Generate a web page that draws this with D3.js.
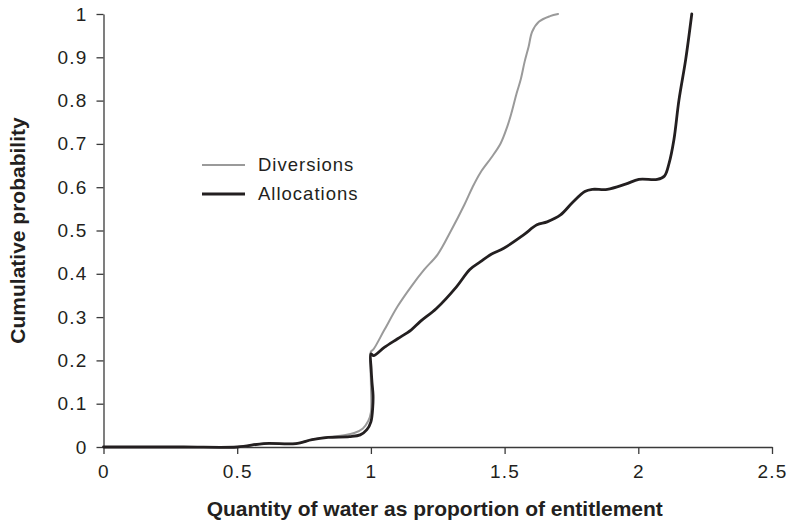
<!DOCTYPE html>
<html>
<head>
<meta charset="utf-8">
<script src="https://cdn.jsdelivr.net/npm/d3@7"></script>
<style>
  html, body { margin: 0; padding: 0; background: #fff; }
  svg { display: block; font-family: "Liberation Sans", Arial, sans-serif; }
  .axis path, .axis line { stroke: #3a3a3a; stroke-width: 1.3; }
  .axis text { fill: #231f20; font-size: 19px; letter-spacing: 1.2px; }
  .axis-label { font-size: 21px; font-weight: bold; fill: #231f20; }
  .legend text { font-size: 18.5px; letter-spacing: 1px; fill: #231f20; }
</style>
</head>
<body>
<div id="chart"></div>
<script>
"use strict";

// x = quantity / entitlement, y = cumulative probability
const diversions = [
  [0, 0], [0.3, 0], [0.5, 0], [0.6, 0.008], [0.72, 0.008], [0.78, 0.017], [0.84, 0.023],
  [0.9, 0.027], [0.94, 0.033], [0.97, 0.043], [0.99, 0.06], [1.0, 0.08],
  [1.0, 0.15], [1.0, 0.22], [1.01, 0.226], [1.05, 0.27], [1.1, 0.325],
  [1.15, 0.37], [1.2, 0.41], [1.25, 0.445], [1.3, 0.5], [1.35, 0.56],
  [1.38, 0.6], [1.41, 0.634], [1.45, 0.668], [1.485, 0.701], [1.51, 0.74],
  [1.525, 0.77], [1.545, 0.817], [1.56, 0.848], [1.575, 0.89], [1.59, 0.925],
  [1.603, 0.959], [1.628, 0.982], [1.67, 0.995], [1.7, 1.0]
];

const allocations = [
  [0, 0], [0.3, 0], [0.5, 0], [0.6, 0.008], [0.72, 0.008], [0.78, 0.017], [0.84, 0.022],
  [0.92, 0.024], [0.96, 0.028], [0.985, 0.04], [1.0, 0.058], [1.007, 0.093],
  [1.008, 0.12], [1.004, 0.15], [1.001, 0.18], [1.0, 0.215], [1.01, 0.211],
  [1.05, 0.23], [1.1, 0.25], [1.15, 0.27], [1.185, 0.29], [1.245, 0.32],
  [1.32, 0.37], [1.37, 0.41], [1.41, 0.428], [1.45, 0.445], [1.497, 0.459],
  [1.571, 0.49], [1.621, 0.513], [1.659, 0.52], [1.709, 0.536], [1.753, 0.564],
  [1.8, 0.59], [1.828, 0.595], [1.884, 0.595], [1.952, 0.607], [2.002, 0.618],
  [2.071, 0.618], [2.098, 0.626], [2.115, 0.655], [2.133, 0.709], [2.152, 0.801],
  [2.177, 0.894], [2.2, 1.0]
];

const xTicks = [0, 0.5, 1, 1.5, 2, 2.5];
const yTicks = [0, 0.1, 0.2, 0.3, 0.4, 0.5, 0.6, 0.7, 0.8, 0.9, 1];
const seriesNames = ['Diversions', 'Allocations'];
const seriesColors = ['#9a9a9a', '#231f20'];
const seriesWidths = [2, 2.8];

(function () {
  let width = 788;
  let height = 523;
  let margin = { top: 14, right: 16, bottom: 76, left: 103.5 };

  let svg = d3.select('#chart').append('svg')
    .attr('width', width)
    .attr('height', height);

  let xScale = d3.scaleLinear()
    .domain([0, 2.5])
    .range([margin.left, width - margin.right]);

  let yScale = d3.scaleLinear()
    .domain([0, 1])
    .range([height - margin.bottom, margin.top]);

  let xAxis = d3.axisBottom(xScale)
    .tickValues(xTicks)
    .tickSize(7)
    .tickPadding(11)
    .tickSizeOuter(0)
    .tickFormat(d3.format('~g'));

  let yAxis = d3.axisLeft(yScale)
    .tickValues(yTicks)
    .tickSize(7)
    .tickPadding(9)
    .tickSizeOuter(0)
    .tickFormat(d3.format('~g'));

  svg.append('g')
    .attr('class', 'x axis')
    .attr('transform', 'translate(0,' + yScale(0) + ')')
    .call(xAxis);

  svg.append('g')
    .attr('class', 'y axis')
    .attr('transform', 'translate(' + xScale(0) + ',0)')
    .call(yAxis);

  let line = d3.line()
    .x(function (d) { return xScale(d[0]); })
    .y(function (d) { return yScale(d[1]); })
    .curve(d3.curveCatmullRom.alpha(0.5));

  [diversions, allocations].forEach(function (data, i) {
    svg.append('path')
      .datum(data)
      .attr('fill', 'none')
      .attr('stroke', seriesColors[i])
      .attr('stroke-width', seriesWidths[i])
      .attr('stroke-linejoin', 'round')
      .attr('stroke-linecap', 'round')
      .attr('d', line);
  });

  // legend
  let legend = svg.append('g')
    .attr('class', 'legend')
    .attr('transform', 'translate(202,165)');

  let items = legend.selectAll('g.item')
    .data(seriesNames)
    .enter()
    .append('g')
    .attr('class', 'item')
    .attr('transform', function (d, i) { return 'translate(0,' + i * 29 + ')'; });

  items.append('line')
    .attr('x1', 0)
    .attr('x2', 43)
    .attr('y1', 0)
    .attr('y2', 0)
    .attr('stroke', function (d, i) { return seriesColors[i]; })
    .attr('stroke-width', function (d, i) { return seriesWidths[i]; });

  items.append('text')
    .attr('x', 56)
    .attr('y', 0)
    .attr('dy', '0.35em')
    .text(function (d) { return d; });

  // axis titles
  svg.append('text')
    .attr('class', 'axis-label')
    .attr('text-anchor', 'middle')
    .attr('x', (xScale(0) + xScale(2.5)) / 2 - 3)
    .attr('y', 516)
    .text('Quantity of water as proportion of entitlement');

  svg.append('text')
    .attr('class', 'axis-label')
    .attr('text-anchor', 'middle')
    .attr('transform', 'translate(25,' + yScale(0.5) + ') rotate(-90)')
    .text('Cumulative probability');
})();
</script>
</body>
</html>
